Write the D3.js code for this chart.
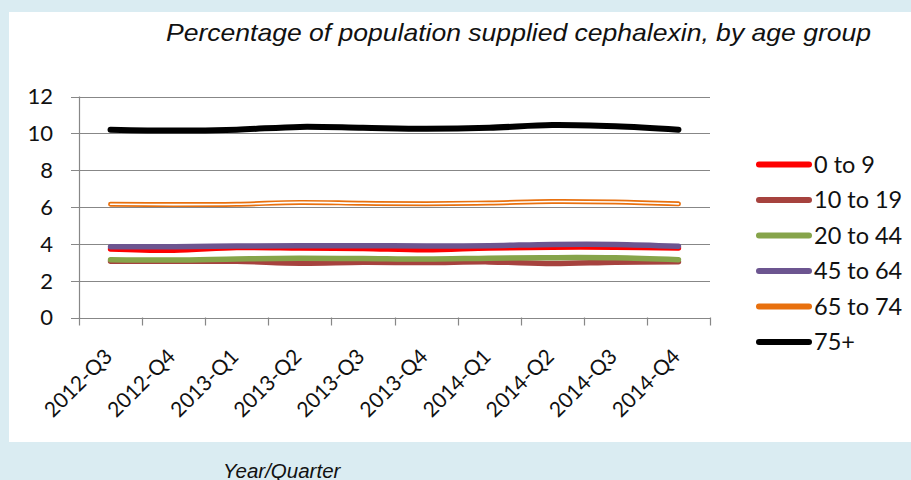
<!DOCTYPE html>
<html>
<head>
<meta charset="utf-8">
<script src="https://cdn.jsdelivr.net/npm/d3@7"></script>
<style>
  html, body { margin: 0; padding: 0; background: #daecf2; }
  svg { display: block; }
</style>
</head>
<body>
<svg id="chart" width="911" height="480"></svg>
<script>
// Quarters on the x axis
const quarters = ["2012-Q3", "2012-Q4", "2013-Q1", "2013-Q2", "2013-Q3",
                  "2013-Q4", "2014-Q1", "2014-Q2", "2014-Q3", "2014-Q4"];

// Percentage of population supplied cephalexin, per age group
const age0to9   = [3.72, 3.65, 3.80, 3.78, 3.75, 3.68, 3.78, 3.82, 3.82, 3.78];
const age10to19 = [3.06, 3.05, 3.05, 2.95, 3.00, 2.98, 3.02, 2.93, 3.00, 3.03];
const age20to44 = [3.14, 3.12, 3.18, 3.22, 3.20, 3.17, 3.22, 3.25, 3.24, 3.14];
const age45to64 = [3.84, 3.84, 3.88, 3.90, 3.90, 3.88, 3.90, 3.97, 3.97, 3.87];
const age65to74 = [6.15, 6.13, 6.15, 6.25, 6.20, 6.18, 6.22, 6.30, 6.27, 6.17];
const age75plus = [10.20, 10.15, 10.20, 10.35, 10.30, 10.25, 10.30, 10.45, 10.38, 10.20];

const seriesNames = ["0 to 9", "10 to 19", "20 to 44", "45 to 64", "65 to 74", "75+"];
const yTicks = [0, 2, 4, 6, 8, 10, 12];

const series = [
  { name: seriesNames[0], values: age0to9,   color: "#fe0000", width: 5.5 },
  { name: seriesNames[1], values: age10to19, color: "#a6423e", width: 5.5 },
  { name: seriesNames[2], values: age20to44, color: "#86a44a", width: 5.5 },
  { name: seriesNames[3], values: age45to64, color: "#6c5590", width: 5.5 },
  { name: seriesNames[4], values: age65to74, color: "#e8700e", width: 5, inner: 1.6 },
  { name: seriesNames[5], values: age75plus, color: "#000000", width: 6 }
];

const svg = d3.select("#chart");
const axisColor = "#878787";

// white chart area
svg.append("rect").attr("x", 9).attr("y", 12).attr("width", 902).attr("height", 430)
  .attr("fill", "#ffffff");

const x = d3.scaleBand().domain(quarters).range([79, 710]);
const y = d3.scaleLinear().domain([0, 12]).range([317.5, 96.5]);

// horizontal gridlines (extending left as tick marks)
svg.append("g").selectAll("line").data(yTicks).join("line")
  .attr("x1", 71).attr("x2", 710)
  .attr("y1", d => Math.round(y(d)) + 0.5).attr("y2", d => Math.round(y(d)) + 0.5)
  .attr("stroke", axisColor).attr("stroke-width", 1.2);

// y axis line
svg.append("line").attr("x1", 79.5).attr("x2", 79.5)
  .attr("y1", y(12)).attr("y2", y(0) + 0.5)
  .attr("stroke", axisColor).attr("stroke-width", 1.2);

// x tick marks at category boundaries
const boundaries = quarters.map(q => x(q)).concat([x.range()[1]]);
svg.append("g").selectAll("line").data(boundaries).join("line")
  .attr("x1", d => Math.round(d) + 0.5).attr("x2", d => Math.round(d) + 0.5)
  .attr("y1", y(0)).attr("y2", y(0) + 8)
  .attr("stroke", axisColor).attr("stroke-width", 1.2);

// y tick labels
svg.append("g").selectAll("text").data(yTicks).join("text")
  .attr("x", 53).attr("y", d => y(d)).attr("dy", "0.36em")
  .attr("text-anchor", "end")
  .attr("font-family", "Lato, sans-serif").attr("font-size", 22)
  .attr("fill", "#111").text(d => d);

// x tick labels, rotated
svg.append("g").selectAll("text").data(quarters).join("text")
  .attr("transform", d => `translate(${x(d) + x.bandwidth() / 2 + 3},358) rotate(-45)`)
  .attr("text-anchor", "end")
  .attr("font-family", "Lato, sans-serif").attr("font-size", 21)
  .attr("fill", "#111").text(d => d);

// smoothed series lines
const line = d3.line()
  .x((d, i) => x(quarters[i]) + x.bandwidth() / 2)
  .y(d => y(d))
  .curve(d3.curveCatmullRom);

const lines = svg.append("g");
series.forEach(s => {
  lines.append("path").attr("d", line(s.values))
    .attr("fill", "none").attr("stroke", s.color).attr("stroke-width", s.width)
    .attr("stroke-linecap", "round").attr("stroke-linejoin", "round");
  if (s.inner) {
    lines.append("path").attr("d", line(s.values))
      .attr("fill", "none").attr("stroke", "#ffffff").attr("stroke-width", s.inner)
      .attr("stroke-linecap", "round");
  }
});

// legend
const legend = svg.append("g");
series.forEach((s, i) => {
  const ly = 164.5 + i * 35.5;
  legend.append("line").attr("x1", 759).attr("x2", 809).attr("y1", ly).attr("y2", ly)
    .attr("stroke", s.color).attr("stroke-width", 6).attr("stroke-linecap", "round");
  legend.append("text").attr("x", 814).attr("y", ly).attr("dy", "0.36em")
    .attr("font-family", "Lato, sans-serif").attr("font-size", 23.5)
    .attr("fill", "#111").text(s.name);
});

// title
svg.append("text").attr("x", 166).attr("y", 40.5)
  .attr("font-family", "'Liberation Sans', Arial, sans-serif")
  .attr("font-style", "italic").attr("font-size", 24)
  .attr("textLength", 705).attr("lengthAdjust", "spacingAndGlyphs")
  .attr("fill", "#111")
  .text("Percentage of population supplied cephalexin, by age group");

// x axis title
svg.append("text").attr("x", 223).attr("y", 477.5)
  .attr("font-family", "'Liberation Sans', Arial, sans-serif")
  .attr("font-style", "italic").attr("font-size", 20.5)
  .attr("fill", "#111").text("Year/Quarter");
</script>
</body>
</html>
